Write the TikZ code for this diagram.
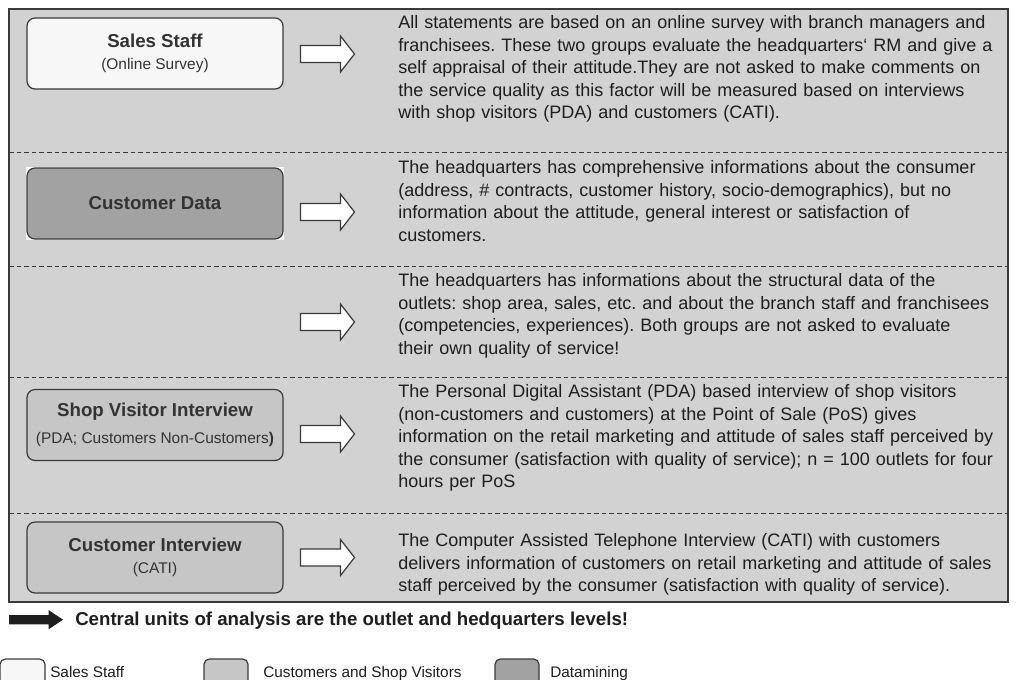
\documentclass[tikz,border=0pt]{standalone}
\usepackage{fontspec}
\setmainfont{Liberation Sans}
\frenchspacing
\definecolor{panelgray}{HTML}{D2D2D2}
\definecolor{edge}{HTML}{3A3A3A}
\definecolor{staffwhite}{HTML}{F7F7F7}
\definecolor{visitorgray}{HTML}{C6C6C6}
\definecolor{mininggray}{HTML}{A2A2A2}
\definecolor{labeltext}{HTML}{333333}
\definecolor{bodytext}{HTML}{1E1E1E}
\begin{document}
\begin{tikzpicture}[x=0.75pt,y=-0.75pt,
  panel/.style={fill=panelgray,draw=edge,line width=1.1pt},
  rowsep/.style={draw=edge,line width=0.7pt,dash pattern=on 3.4pt off 2.3pt},
  srcbox/.style={draw=edge,line width=0.9pt,rounded corners=6pt,
    minimum width=192pt,minimum height=53.25pt,align=center,
    text=labeltext,inner sep=0pt,font=\fontsize{11.6pt}{16.5pt}\selectfont},
  body/.style={anchor=base west,align=left,inner sep=0pt,text width=480pt,
    text=bodytext,font=\fontsize{13.5pt}{16.95pt}\selectfont},
  legendbox/.style={draw=edge,line width=0.9pt,rounded corners=4pt},
  legendtext/.style={anchor=base west,inner sep=0pt,text=bodytext,
    font=\fontsize{11.5pt}{14pt}\selectfont},
  hollowarrow/.style={fill=white,draw=edge,line width=0.9pt},
  solidarrow/.style={fill=bodytext,draw=none}]

\useasboundingbox (0,0) rectangle (1020,679);
\clip (0,0) rectangle (1020,679);

% background panel and row separators
\draw[panel] (9,9) rectangle (1008,602);
\foreach \yy in {152,266,377,513}
  \draw[rowsep] (9,\yy) -- (1008,\yy);

% data source boxes
\node[srcbox,fill=staffwhite] (staff) at (155,53.5)
  {{\fontsize{14pt}{17pt}\bfseries Sales Staff}\\(Online Survey)};
\fill[white] (26,167) rectangle (284,240);
\node[srcbox,fill=mininggray] (custdata) at (155,203.5)
  {{\fontsize{14pt}{17pt}\bfseries Customer Data}};
\node[srcbox,fill=visitorgray] (shop) at (155,425)
  {{\fontsize{14pt}{17pt}\bfseries Shop Visitor Interview}\\[3.7pt](PDA; Customers Non-Customers\textbf{)}};
\node[srcbox,fill=visitorgray] (custint) at (155,557.5)
  {{\fontsize{14pt}{17pt}\bfseries Customer Interview}\\(CATI)};

% hollow block arrows pointing to the descriptions
\foreach \nm/\yy in {a1/54,a2/212,a3/322,a4/434,a5/557.5}{
  \coordinate (\nm) at (300.5,\yy);
  \draw[hollowarrow] (\nm) ++(0,-8.5) -- ++(40,0) -- ++(0,-9.5) -- ++(14,18)
    -- ++(-14,18) -- ++(0,-9.5) -- ++(-40,0) -- cycle;
}

% descriptions
\node[body] (t1) at (398,28.5) {All statements are based on an online survey with branch managers and\\
franchisees. These two groups evaluate the headquarters‘ RM and give a\\
self appraisal of their attitude.They are not asked to make comments on\\
the service quality as this factor will be measured based on interviews\\
with shop visitors (PDA) and customers (CATI).};
\node[body] (t2) at (398,173.5) {The headquarters has comprehensive informations about the consumer\\
(address, \# contracts, customer history, socio-demographics), but no\\
information about the attitude, general interest or satisfaction of\\
customers.};
\node[body] (t3) at (398,286.5) {The headquarters has informations about the structural data of the\\
outlets: shop area, sales, etc. and about the branch staff and franchisees\\
(competencies, experiences). Both groups are not asked to evaluate\\
their own quality of service!};
\node[body] (t4) at (398,397.5) {The Personal Digital Assistant (PDA) based interview of shop visitors\\
(non-customers and customers) at the Point of Sale (PoS) gives\\
information on the retail marketing and attitude of sales staff perceived by\\
the consumer (satisfaction with quality of service); n = 100 outlets for four\\
hours per PoS};
\node[body] (t5) at (398,546.5) {The Computer Assisted Telephone Interview (CATI) with customers\\
delivers information of customers on retail marketing and attitude of sales\\
staff perceived by the consumer (satisfaction with quality of service).};

% conclusion
\coordinate (concl) at (9,619.7);
\fill[solidarrow] (concl) ++(0,-4.7) -- ++(39.5,0) -- ++(0,-5) -- ++(14.5,9.7)
  -- ++(-14.5,9.7) -- ++(0,-5) -- ++(-39.5,0) -- cycle;
\node[anchor=base west,inner sep=0pt,text=bodytext,font=\fontsize{14pt}{17pt}\bfseries]
  (concltext) at (75,625) {Central units of analysis are the outlet and hedquarters levels!};

% legend
\draw[legendbox,fill=staffwhite] (0,659) rectangle (45,700);
\node[legendtext] (lg1) at (50,677) {Sales Staff};
\draw[legendbox,fill=visitorgray] (204,659) rectangle (248,700);
\node[legendtext] (lg2) at (263,677) {Customers and Shop Visitors};
\draw[legendbox,fill=mininggray] (495,659) rectangle (539,700);
\node[legendtext] (lg3) at (550,677) {Datamining};
\end{tikzpicture}
\end{document}
